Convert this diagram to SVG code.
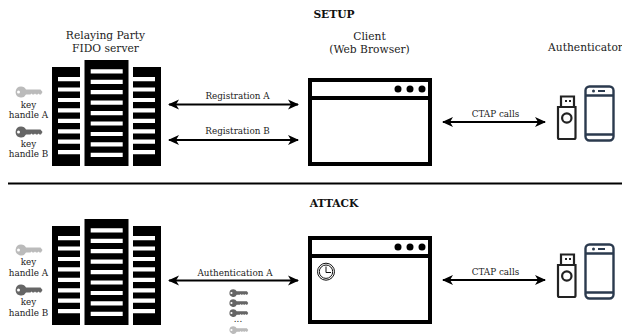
<svg xmlns="http://www.w3.org/2000/svg" xmlns:xlink="http://www.w3.org/1999/xlink" width="622" height="334" viewBox="0 0 622 334">
<style>
text{font-family:"DejaVu Serif",serif;fill:#222;text-anchor:middle}
.h{font-size:10.700px}
.l{font-size:8.800px}
.t{font-weight:700;font-size:10.700px;fill:#111}
.k{font-size:8.800px}
.c{fill:none;stroke:#000;stroke-width:2;marker-start:url(#ah);marker-end:url(#ah)}
.ph{fill:none;stroke:#2b3a4e;stroke-width:2.4}
.us{fill:none;stroke:#222;stroke-width:2.2}
</style>
<defs>
<marker id="ah" markerUnits="userSpaceOnUse" markerWidth="12" markerHeight="12" refX="10" refY="6" orient="auto-start-reverse"><path d="M0 1L11 6L0 11L3 6Z" fill="#000"/></marker>
<g id="srv">
<path fill="#000" d="M52 67h28v99h-28zM84.500 60h44v106h-44zM133 67h28v99h-28z"/>
<g fill="#fff">
<path id="sl" d="M58 77h22v4.200h-22zM58 87.400h22v4.200h-22zM58 97.900h22v4.200h-22zM58 108.300h22v4.200h-22zM58 118.700h22v4.200h-22zM58 129.200h22v4.200h-22zM58 139.600h22v4.200h-22zM58 150.100h22v4.200h-22z"/>
<use xlink:href="#sl" href="#sl" x="75"/>
<path d="M90.700 69.200h32v4.200h-32zM90.700 79.700h32v4.200h-32zM90.700 90.100h32v4.200h-32zM90.700 100.500h32v4.200h-32zM90.700 111h32v4.200h-32zM90.700 121.400h32v4.200h-32zM90.700 131.900h32v4.200h-32zM90.700 142.300h32v4.200h-32zM90.700 152.800h32v4.200h-32z"/>
</g>
</g>
<path id="key" fill-rule="evenodd" d="M6 -5.500A5.500 5.500 0 0 1 11 -2.500H25.500L27.500 0L26 2.500H24.500L23.500 1.500L22.500 2.500H21L20 1.500L19 2.500H17.500L16.500 1.500L15.500 2.500H11A5.500 5.500 0 1 1 6 -5.500ZM3.500 -1.500A1.500 1.500 0 1 0 3.500 1.500A1.500 1.500 0 1 0 3.500 -1.500Z"/>
<g id="brw">
<rect x="310" y="80" width="120" height="84" fill="#fff" stroke="#000" stroke-width="4"/>
<path d="M310 98H430" stroke="#000" stroke-width="4"/>
<circle cx="398" cy="89" r="3.500"/><circle cx="410" cy="89" r="3.500"/><circle cx="422" cy="89" r="3.500"/>
</g>
<g id="dev">
<path class="us" d="M561 107V96.500H574V107M558 107H575.500V137.500Q575.500 139 574 139H559.500Q558 139 558 137.500Z"/>
<path d="M565 100h2v2h-2zM569 100h2v2h-2z" fill="#222"/>
<circle class="us" cx="566.800" cy="118" r="4.700"/>
<rect class="ph" x="585.500" y="86.500" width="28" height="54" rx="4"/>
<path class="ph" d="M585.500 95.500H613.500M585.500 134.500H613.500"/>
<circle cx="593.500" cy="91" r="1.500" fill="#2b3a4e"/>
<path d="M598 91H605" stroke="#2b3a4e" stroke-width="2"/>
</g>
</defs>
<g id="titles">
<text class="t" x="334" y="18">SETUP</text>
<text class="t" x="334" y="207">ATTACK</text>
<path d="M8 183.500H622" stroke="#000" stroke-width="2"/>
</g>
<g id="connectors">
<path class="c" d="M169 104.500H298"/>
<path class="c" d="M169 140H298"/>
<path class="c" d="M443 122H545"/>
<path class="c" d="M169 280.500H298"/>
<path class="c" d="M443 280H545"/>
</g>
<g id="server-setup">
<text class="h" x="105.500" y="39">Relaying Party</text>
<text class="h" x="105.500" y="52">FIDO server</text>
<use href="#srv"/>
</g>
<g id="keys-setup">
<use href="#key" x="15" y="92" fill="#bbb"/>
<text class="k" x="28.500" y="108">key</text>
<text class="k" x="28.500" y="118">handle A</text>
<use href="#key" x="15" y="132" fill="#666"/>
<text class="k" x="28.500" y="147">key</text>
<text class="k" x="28.500" y="157">handle B</text>
</g>
<g id="label-setup">
<text class="l" x="237.500" y="99">Registration A</text>
<text class="l" x="237.500" y="134">Registration B</text>
<text class="l" x="495.500" y="117">CTAP calls</text>
</g>
<g id="client-setup">
<text class="h" x="369.500" y="40">Client</text>
<text class="h" x="369.500" y="53">(Web Browser)</text>
<use href="#brw"/>
</g>
<g id="auth-setup">
<text class="h" x="585.500" y="51">Authenticator</text>
<use href="#dev"/>
</g>
<g id="server-attack"><use href="#srv" y="159"/></g>
<g id="keys-attack">
<use href="#key" x="15" y="250" fill="#bbb"/>
<text class="k" x="28.500" y="265">key</text>
<text class="k" x="28.500" y="276">handle A</text>
<use href="#key" x="15" y="290" fill="#666"/>
<text class="k" x="28.500" y="305">key</text>
<text class="k" x="28.500" y="316">handle B</text>
</g>
<g id="label-attack">
<text class="l" x="235" y="276">Authentication A</text>
<text class="l" x="495.500" y="275">CTAP calls</text>
</g>
<g id="keys-list" transform="translate(229 0)">
<use href="#key" transform="translate(0 293) scale(.7)" fill="#666"/>
<use href="#key" transform="translate(0 303) scale(.7)" fill="#666"/>
<use href="#key" transform="translate(0 313) scale(.7)" fill="#666"/>
<text class="l" x="9" y="322">...</text>
<use href="#key" transform="translate(0 330) scale(.7)" fill="#bbb"/>
</g>
<g id="client-attack">
<use href="#brw" y="158"/>
<circle cx="326" cy="271.700" r="8.500" fill="none" stroke="#111" stroke-width="1"/>
<circle cx="326" cy="271.700" r="6.700" fill="none" stroke="#111" stroke-width="1"/>
<path d="M326 266.500V272.500H331" fill="none" stroke="#111" stroke-width="1"/>
</g>
<g id="auth-attack"><use href="#dev" y="158"/></g>
</svg>
